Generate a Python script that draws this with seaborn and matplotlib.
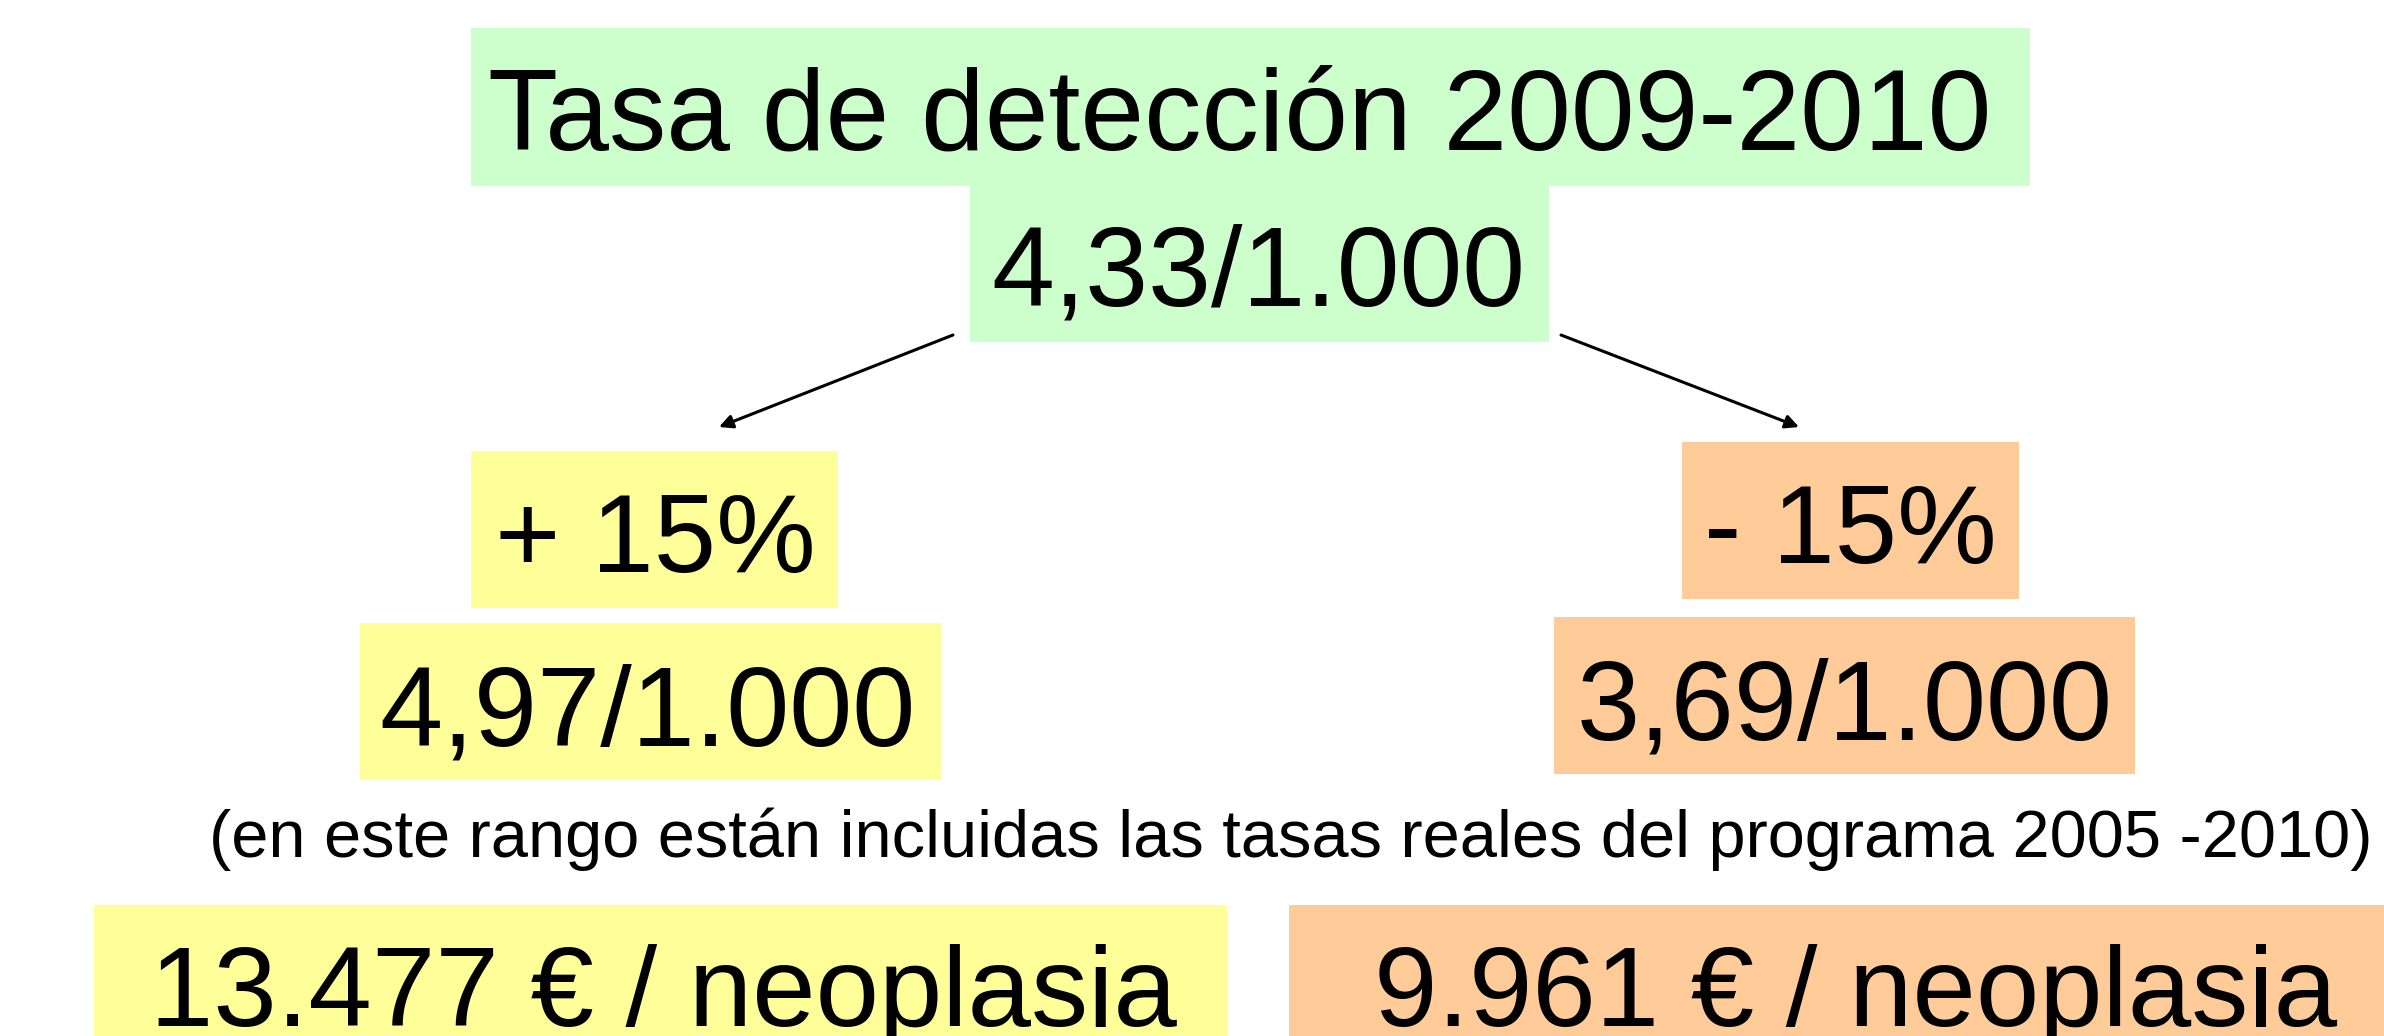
import matplotlib
matplotlib.use("Agg")
import matplotlib.pyplot as plt
from matplotlib.patches import Rectangle
import seaborn as sns

sns.set_theme(style="white")
plt.rcParams['font.family'] = ['Liberation Sans', 'DejaVu Sans']

# ---- content ----
title = "Tasa de detección 2009-2010"
base_rate = "4,33/1.000"
change_labels = ["+ 15%", "- 15%"]
rate_labels = ["4,97/1.000", "3,69/1.000"]
note = "(en este rango están incluidas las tasas reales del programa 2005 -2010)"
cost_labels = ["13.477 € / neoplasia", "9.961 € / neoplasia"]

GREEN = "#CCFFCC"
YELLOW = "#FFFF99"
ORANGE = "#FFCC99"

W, H = 2384, 1036
DPI = 100
fig = plt.figure(figsize=(W / DPI, H / DPI), dpi=DPI)
ax = fig.add_axes([0, 0, 1, 1])
ax.set_xlim(0, W)
ax.set_ylim(H, 0)
ax.axis("off")

PT = 72 / DPI  # px -> pt

# layout: (x0, y0, x1, y1, color)
boxes = [
    (471, 28, 2030, 186, GREEN),
    (970, 185, 1549, 342, GREEN),
    (471, 451, 838, 608, YELLOW),
    (1682, 442, 2019, 599, ORANGE),
    (360, 623, 941, 780, YELLOW),
    (1554, 617, 2135, 774, ORANGE),
    (94, 905, 1227, 1040, YELLOW),
    (1289, 905, 2390, 1040, ORANGE),
]
for x0, y0, x1, y1, c in boxes:
    ax.add_patch(Rectangle((x0, y0), x1 - x0, y1 - y0, facecolor=c, edgecolor="none", zorder=1))

# texts: (text, x_center, baseline, size_px)
texts = [
    (title, 1240, 150, 114.5),
    (base_rate, 1258, 306, 113),
    (change_labels[0], 655, 572, 112),
    (change_labels[1], 1850, 563, 112),
    (rate_labels[0], 648, 745, 113.5),
    (rate_labels[1], 1845, 739, 113.5),
    (note, 1291, 857, 66.7),
    (cost_labels[0], 663, 1026, 114),
    (cost_labels[1], 1856, 1026, 114),
]
for t, x, y, s in texts:
    ax.text(x, y, t, ha="center", va="baseline", fontsize=s * PT, color="black", zorder=3)

# arrows
arrows = [((953, 335), (719, 427)), ((1561, 335), (1799, 427))]
for (xs, ys), (xe, ye) in arrows:
    ax.annotate("", xy=(xe, ye), xytext=(xs, ys),
                arrowprops=dict(arrowstyle="-|>", color="black", lw=2.2,
                                mutation_scale=20, shrinkA=0, shrinkB=0), zorder=2)

fig.savefig("out.png", dpi=DPI, facecolor="white")
